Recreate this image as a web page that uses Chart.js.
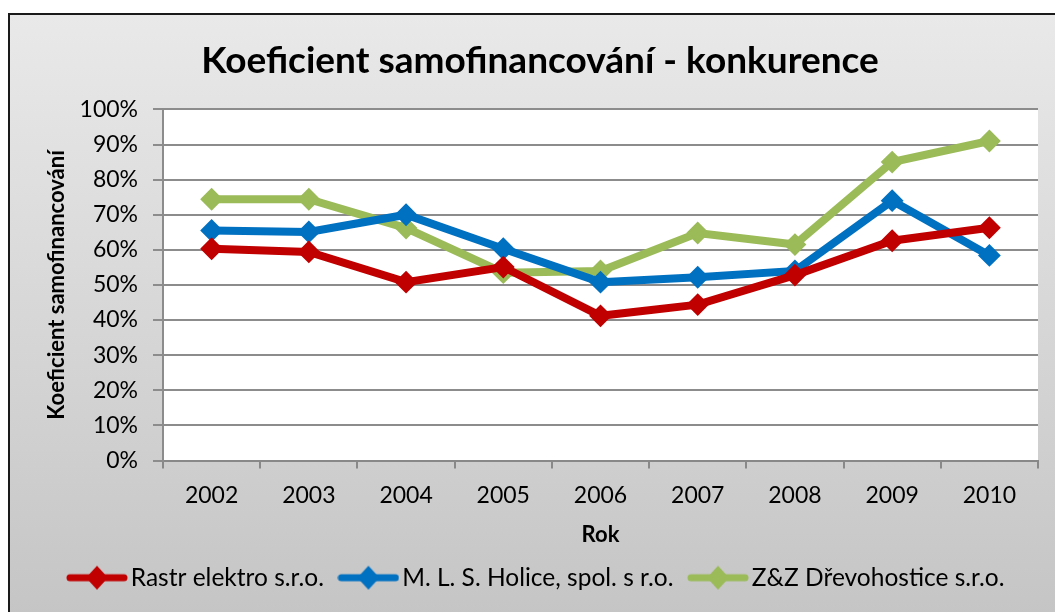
<!DOCTYPE html>
<html>
<head>
<meta charset="utf-8">
<script src="https://cdn.jsdelivr.net/npm/chart.js@4"></script>
<style>
  html, body { margin: 0; padding: 0; background: #fff; overflow: hidden; }
  #ram {
    position: absolute; left: 8px; top: 13px; width: 1100px; height: 700px;
    border: 2px solid #1a1a1a;
    background: linear-gradient(#e9e9e9, #bfbfbf);
  }
  #wrap { position: absolute; left: 0; top: 0; width: 1080px; height: 612px; }
</style>
</head>
<body>
<div id="ram"></div>
<div id="wrap"><canvas id="graf"></canvas></div>
<script>
// ---- Data ----
const roky = ['2002', '2003', '2004', '2005', '2006', '2007', '2008', '2009', '2010'];
const rastr = [60.3, 59.4, 50.8, 55.1, 41.2, 44.4, 52.8, 62.6, 66.3];
const mls = [65.5, 65.1, 70.0, 60.3, 50.8, 52.2, 54.0, 74.0, 58.4];
const zz = [74.4, 74.4, 66.2, 53.5, 54.0, 64.8, 61.5, 85.0, 91.0];
const nazvy = ['Rastr elektro s.r.o.', 'M. L. S. Holice, spol. s r.o.', 'Z&Z Dřevohostice s.r.o.'];
const barvy = ['#c00000', '#0070c0', '#9bbb59'];

const pismo = 'Lato, "Open Sans", sans-serif';

// ikona do legendy: čára s kosočtvercem
function ikona(barva) {
  const c = document.createElement('canvas');
  c.width = 62; c.height = 26;
  const g = c.getContext('2d');
  g.strokeStyle = barva; g.lineWidth = 7; g.lineCap = 'round';
  g.beginPath(); g.moveTo(4, 13); g.lineTo(58, 13); g.stroke();
  g.fillStyle = barva;
  g.beginPath(); g.moveTo(31, 1); g.lineTo(42, 13); g.lineTo(31, 25); g.lineTo(20, 13); g.closePath(); g.fill();
  return c;
}

function serie(i, data) {
  return {
    label: nazvy[i],
    data: data,
    borderColor: barvy[i],
    backgroundColor: barvy[i],
    borderWidth: 8,
    pointStyle: 'rectRot',
    pointRadius: 10,
    pointHoverRadius: 10,
    pointBorderWidth: 2,
    tension: 0
  };
}

const bilePozadi = {
  id: 'bilePozadi',
  beforeDraw(chart) {
    const a = chart.chartArea, ctx = chart.ctx;
    ctx.save();
    ctx.fillStyle = '#ffffff';
    ctx.fillRect(a.left, a.top, a.right - a.left, a.bottom - a.top);
    ctx.restore();
  }
};

const ikony = barvy.map(ikona);

new Chart(document.getElementById('graf'), {
  type: 'line',
  data: {
    labels: roky,
    datasets: [serie(0, rastr), serie(1, mls), serie(2, zz)]
  },
  options: {
    responsive: true,
    maintainAspectRatio: false,
    animation: false,
    layout: { padding: { left: 42, right: 42, top: 0, bottom: 12 } },
    plugins: {
      title: {
        display: true,
        text: 'Koeficient samofinancování - konkurence',
        color: '#000',
        font: { family: pismo, size: 37, weight: 'bold' },
        padding: { top: 39, bottom: 26 }
      },
      legend: {
        position: 'bottom',
        labels: {
          color: '#000',
          font: { family: pismo, size: 24.5 },
          usePointStyle: true,
          pointStyleWidth: 43,
          padding: 23,
          generateLabels(chart) {
            return chart.data.datasets.map((d, i) => ({
              text: d.label,
              pointStyle: ikony[i],
              fillStyle: barvy[i],
              strokeStyle: barvy[i],
              lineWidth: 0,
              fontColor: '#000',
              datasetIndex: i
            }));
          }
        }
      },
      tooltip: { enabled: false }
    },
    scales: {
      x: {
        offset: true,
        afterFit(s) { s.height = 82; },
        grid: { offset: true, drawOnChartArea: false, color: '#888', lineWidth: 2, tickLength: 8 },
        border: { color: '#888', width: 2 },
        ticks: { color: '#000', font: { family: pismo, size: 23 }, padding: 13 },
        title: { display: true, text: 'Rok', color: '#000', font: { family: pismo, size: 22, weight: 'bold' }, padding: { top: 0, bottom: -6 } }
      },
      y: {
        min: 0, max: 100,
        afterFit(s) { s.width = 121; },
        grid: { color: '#8c8c8c', lineWidth: 2, tickLength: 10 },
        border: { color: '#8c8c8c', width: 2 },
        ticks: { stepSize: 10, color: '#000', font: { family: pismo, size: 23 }, padding: 15, callback: v => v + '%' },
        title: { display: true, text: 'Koeficient samofinancování', color: '#000', font: { family: pismo, size: 22, weight: 'bold' }, padding: { top: 2, bottom: 0 } }
      }
    }
  },
  plugins: [bilePozadi]
});
</script>
</body>
</html>
